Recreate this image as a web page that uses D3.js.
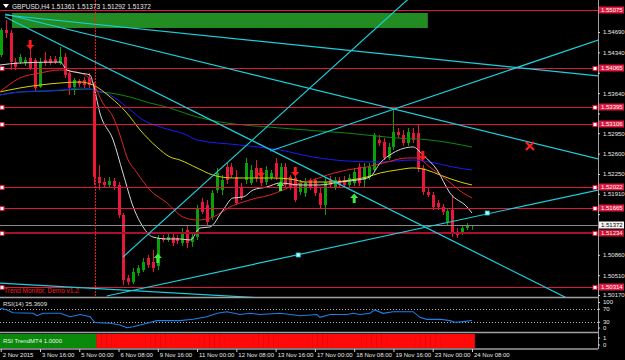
<!DOCTYPE html>
<html lang="en">
<head>
<meta charset="utf-8">
<title>GBPUSD,H4</title>
<script src="https://cdnjs.cloudflare.com/ajax/libs/d3/7.8.5/d3.min.js"></script>
<style>
    body { margin: 0; background: #000; }
    svg text { font-family: "Liberation Sans", Arial, sans-serif; }
</style>
</head>
<body>
<script>

//Candles, one per H4 bar from 2 Nov 08:00 to 24 Nov 08:00: [open, high, low, close]
var candles = [
    [1.54295,1.54759,1.54260,1.54724],[1.54724,1.54896,1.54587,1.54673],[1.54673,1.54724,1.54037,1.54174],[1.54174,1.54243,1.54037,1.54089],
    [1.54174,1.54312,1.54140,1.54260],[1.54157,1.54260,1.54106,1.54209],[1.54243,1.54415,1.54037,1.54071],[1.54209,1.54243,1.53659,1.53728],
    [1.53745,1.54243,1.53728,1.54174],[1.54209,1.54346,1.54106,1.54157],[1.54226,1.54278,1.54123,1.54157],[1.54226,1.54278,1.54140,1.54174],
    [1.54157,1.54432,1.54123,1.54260],[1.54260,1.54329,1.53899,1.53951],[1.53985,1.54037,1.53607,1.53728],[1.53745,1.53899,1.53607,1.53865],
    [1.53848,1.53882,1.53745,1.53796],[1.53865,1.53917,1.53728,1.53779],[1.53899,1.53985,1.53728,1.53779],[1.53779,1.53831,1.52061,1.52198],
    [1.52198,1.52404,1.51975,1.52095],[1.52112,1.52181,1.52009,1.52061],[1.52061,1.52198,1.52009,1.52129],[1.52129,1.52181,1.51975,1.52043],
    [1.52061,1.52112,1.51493,1.51545],[1.51545,1.51579,1.50342,1.50428],[1.50462,1.50514,1.50342,1.50394],[1.50394,1.50634,1.50359,1.50565],
    [1.50548,1.50686,1.50497,1.50634],[1.50600,1.50806,1.50565,1.50737],[1.50806,1.50858,1.50634,1.50686],[1.50737,1.50944,1.50565,1.50634],
    [1.50668,1.51201,1.50600,1.51150],[1.51150,1.51201,1.51081,1.51116],[1.51116,1.51236,1.51081,1.51167],[1.51167,1.51253,1.51012,1.51064],
    [1.51150,1.51201,1.51047,1.51098],[1.51064,1.51322,1.51012,1.51236],[1.51287,1.51373,1.50978,1.51064],[1.51081,1.51236,1.50995,1.51167],
    [1.51167,1.51717,1.51116,1.51665],[1.51769,1.51837,1.51562,1.51597],[1.51717,1.51803,1.51356,1.51425],[1.51511,1.51975,1.51459,1.51923],
    [1.51975,1.52353,1.51923,1.52267],[1.51975,1.52232,1.51889,1.52146],[1.52370,1.52439,1.52078,1.52146],[1.52370,1.52439,1.52181,1.52232],
    [1.52198,1.52318,1.51717,1.51751],[1.52009,1.52095,1.51803,1.51854],[1.52146,1.52525,1.52078,1.52439],[1.52095,1.52404,1.52061,1.52318],
    [1.52353,1.52490,1.52112,1.52181],[1.52284,1.52353,1.52043,1.52095],[1.52112,1.52387,1.52061,1.52318],[1.52181,1.52318,1.52146,1.52267],
    [1.52439,1.52525,1.52146,1.52198],[1.52112,1.52439,1.52061,1.52370],[1.52370,1.52439,1.52009,1.52061],[1.52198,1.52232,1.51975,1.52026],
    [1.52181,1.52232,1.51769,1.51803],[1.51940,1.52146,1.51889,1.52095],[1.51923,1.52181,1.51854,1.52112],[1.52146,1.52181,1.51975,1.52009],
    [1.52146,1.52181,1.51872,1.51923],[1.51923,1.52009,1.51665,1.51717],[1.51717,1.52181,1.51545,1.52112],[1.52146,1.52215,1.52009,1.52061],
    [1.52026,1.52198,1.51975,1.52146],[1.52146,1.52198,1.52009,1.52061],[1.52146,1.52215,1.52009,1.52061],[1.52061,1.52250,1.52009,1.52181],
    [1.52095,1.52353,1.52043,1.52284],[1.52370,1.52439,1.52043,1.52095],[1.52146,1.52439,1.52009,1.52370],[1.52198,1.52439,1.52146,1.52370],
    [1.52318,1.52954,1.52284,1.52920],[1.52834,1.52920,1.52731,1.52782],[1.52800,1.52868,1.52490,1.52525],[1.52525,1.52782,1.52490,1.52714],
    [1.52714,1.53350,1.52662,1.52971],[1.52971,1.53040,1.52868,1.52920],[1.52920,1.53006,1.52731,1.52782],[1.52782,1.53040,1.52731,1.52971],
    [1.52954,1.53040,1.52782,1.52834],[1.52954,1.53092,1.52284,1.52353],[1.52353,1.52404,1.51889,1.51940],[1.51940,1.52009,1.51854,1.51889],
    [1.51889,1.51940,1.51631,1.51683],[1.51751,1.51803,1.51631,1.51683],[1.51683,1.51734,1.51545,1.51597],[1.51425,1.51665,1.51373,1.51614],
    [1.51631,1.51889,1.51167,1.51253],[1.51253,1.51322,1.51150,1.51201],[1.51236,1.51356,1.51201,1.51322],[1.51322,1.51408,1.51287,1.51373],
    [1.51361,1.51373,1.51292,1.51372]
];

//Moving averages: [bar index, price]
var maWhite = [[-0.2,1.54123],[3.9,1.54157],[12.1,1.54174],[13.5,1.54037],[16.2,1.53985],[18.2,1.53951],[18.8,1.53814],[20.2,1.53298],
    [22.9,1.52834],[24.9,1.52267],[27,1.51683],[29,1.51339],[31,1.51167],[33.9,1.51133],[36.5,1.51133],[38.6,1.51116],[40.6,1.51322],
    [42.6,1.51339],[45.3,1.51631],[47.3,1.51837],[49.4,1.51854],[51.4,1.51975],[54.2,1.52026],[56.9,1.52095],[61,1.52061],[65,1.52061],
    [69.1,1.52112],[72.6,1.52146],[75.2,1.52198],[77.3,1.52439],[79.9,1.52610],[84,1.52714],[86,1.52576],[88.9,1.52318],[91.5,1.51923],
    [95,1.51683],[96,1.51579]];
var maRed = [[-0.2,1.53659],[3.9,1.53899],[8,1.53985],[12.1,1.54037],[16.2,1.53985],[18.8,1.53814],[20.8,1.53470],[22.9,1.53229],
    [24.3,1.52920],[25.7,1.52542],[27.8,1.52267],[30.4,1.51975],[33.9,1.51751],[37.1,1.51511],[40,1.51459],[42,1.51476],[44.1,1.51545],
    [46.7,1.51683],[49.4,1.51769],[52.2,1.51837],[54.9,1.51889],[57.5,1.51975],[61,1.52095],[63.6,1.52146],[66.5,1.52232],[70.5,1.52318],
    [74.6,1.52370],[78.7,1.52456],[82.8,1.52525],[84.8,1.52525],[87.4,1.52370],[90.9,1.52146],[94.2,1.51923],[96,1.51837]];
var maYellow = [[-0.2,1.53659],[3.9,1.53728],[8,1.53779],[12.1,1.53814],[16.2,1.53831],[18.8,1.53779],[22.3,1.53573],[25.7,1.53298],
    [28.4,1.53006],[31.8,1.52714],[34.5,1.52542],[36.5,1.52490],[40,1.52353],[43.2,1.52232],[47.3,1.52181],[51.4,1.52181],[55.5,1.52181],
    [58.9,1.52164],[62.4,1.52112],[67.7,1.52112],[71.2,1.52146],[74.6,1.52198],[77.3,1.52267],[80.7,1.52318],[84,1.52353],[86.8,1.52318],
    [89.5,1.52232],[93.6,1.52112],[96,1.52061]];
var maBlue = [[-0.2,1.53607],[3.9,1.53659],[8,1.53676],[12.1,1.53693],[16.2,1.53728],[18.8,1.53693],[22.3,1.53607],[25.7,1.53401],
    [29,1.53178],[32.5,1.53057],[37.9,1.52920],[40,1.52834],[48.7,1.52748],[56.9,1.52662],[63.6,1.52542],[70.5,1.52473],[77.3,1.52456],
    [84,1.52490],[87.4,1.52456],[92.1,1.52370],[96,1.52318]];
var maGreen = [[-0.2,1.53607],[3.9,1.53659],[10,1.53676],[18.2,1.53710],[20.2,1.53659],[22.3,1.53642],[26.3,1.53573],[30.4,1.53470],
    [34.5,1.53384],[38.6,1.53264],[42.6,1.53178],[56.9,1.53040],[70.5,1.52954],[80.7,1.52868],[87.4,1.52834],[96,1.52714]];

//RSI(14): [bar index, value]
var rsiPoints = [[0,73],[1.3,68],[2.5,59],[6.6,57.5],[7.4,50],[8.6,57.5],[12.1,57.5],[14.1,47],[16.2,54],[18.2,47],[19.2,29],
    [22.3,27],[24.3,21.5],[25.7,13],[27,16],[29.8,27],[31.8,35],[36.5,35],[39.2,39],[42,47],[44.1,57.5],[46.1,62.5],[48.7,54],
    [50.8,57.5],[52.8,54],[56.9,57.5],[61,50],[64.4,54],[65,45],[67.1,54],[70.5,54],[71.8,57.5],[73.2,54],[75.2,57.5],[76.2,68],
    [77.9,57.5],[79.9,62.5],[84,62.5],[85.4,45],[86.8,39],[89.5,39],[91.5,35],[92.5,30],[94.2,32],[96,35.36]];

//RSI TrendMT4: value 1 on every bar, green until the switch bar, red after
var trendValue = 1.0;
var trendSwitchBar = 20;

//Axis labels
var priceTicks = [1.54690,1.54340,1.53990,1.53640,1.53290,1.52950,1.52600,1.52250,1.51910,1.51560,1.51210,1.50860,1.50510,1.50170];
var timeTickBars = [0,8,16,24,32,40,48,56,64,72,80,88,96];
var timeLabels = ["2 Nov 2015","3 Nov 16:00","5 Nov 00:00","6 Nov 08:00","9 Nov 16:00","11 Nov 00:00","12 Nov 08:00",
    "13 Nov 16:00","17 Nov 00:00","18 Nov 08:00","19 Nov 16:00","23 Nov 00:00","24 Nov 08:00"];
var rsiTicks = [100,70,30,0];

//Drawn objects
var hLevels = [1.55075,1.54065,1.53395,1.53106,1.52022,1.51665,1.50314];
var hLevelDark = 1.51234;
var lastPrice = 1.51372;
var title = "GBPUSD,H4  1.51361 1.51373 1.51292 1.51372";
//trend lines: [bar1, price1, bar2, price2]
var trendLines = [
    [0.9,1.54982,121.7,1.53934],
    [0.9,1.54999,121.7,1.52507],
    [0.9,1.54948,114.9,1.50136],
    [24.9,1.50823,82.8,1.55240],
    [54.9,1.52645,121.7,1.54553],
    [21.6,1.50153,121.7,1.51975],
    [-0.2,1.50376,49.8,1.50136]
];
var lineDots = [[60.6,1.50858],[99.1,1.51579]];
var zoneBox = [2.3,1.55017,87.0,1.54759];
var vLineBar = 19.3;
var downArrows = [[6,1.54467],[53,1.52267],[60,1.52284],[86,1.52559]];
var upArrows = [[32,1.50806],[57,1.52043],[72,1.51837]];
var crossMark = [107.8,1.52731];

//Layout
var w = 625, h = 360;
var plotW = 598;
var mainH = 297;
var axisY = 349;
var fs = 6;

var xScale = d3.scaleLinear().domain([0, 96]).range([0.7, 472]);
var yScale = d3.scaleLinear().domain([1.50170, 1.54690]).range([295, 32]);
var rsiScale = d3.scaleLinear().domain([0, 100]).range([332, 299.5]);
var trScale = d3.scaleLinear().domain([0, 1]).range([348, 334]);
var step = xScale(1) - xScale(0);

var crimson = "#e0163e";
var bullCol = "#0aa00a";
var bearCol = "#e8183c";
var cyan = "#1ccfdc";

var svg = d3.select("body").append("svg").attr("width", w).attr("height", h);
svg.append("rect").attr("width", w).attr("height", h).attr("fill", "#000");

svg.append("clipPath").attr("id", "clipMain")
    .append("rect").attr("x", 0).attr("y", 0).attr("width", plotW).attr("height", mainH);

var main = svg.append("g").attr("clip-path", "url(#clipMain)");

//Candles
var px = function(i) { return Math.round(xScale(i)) + 0.5; };
main.selectAll("line.wick").data(candles).enter().append("line")
    .attr("x1", function(d, i) { return px(i); })
    .attr("x2", function(d, i) { return px(i); })
    .attr("y1", function(d) { return yScale(d[1]); })
    .attr("y2", function(d) { return yScale(d[2]); })
    .attr("stroke", function(d) { return d[3] >= d[0] ? bullCol : bearCol; })
    .attr("stroke-width", 1);
main.selectAll("rect.body").data(candles).enter().append("rect")
    .attr("x", function(d, i) { return px(i) - 1.5; })
    .attr("width", 3)
    .attr("y", function(d) { return yScale(Math.max(d[0], d[3])); })
    .attr("height", function(d) { return Math.max(1, Math.abs(yScale(d[0]) - yScale(d[3]))); })
    .attr("fill", function(d) { return d[3] >= d[0] ? bullCol : bearCol; });

//Moving averages
var maLine = d3.line()
    .x(function(d) { return xScale(d[0]); })
    .y(function(d) { return yScale(d[1]); })
    .curve(d3.curveMonotoneX);
[[maGreen, "#0b8a0b"], [maBlue, "#1a1aff"], [maYellow, "#d6d600"], [maRed, "#e02424"], [maWhite, "#d8d8d8"]].forEach(function(m) {
    main.append("path").attr("d", maLine(m[0])).attr("fill", "none")
        .attr("stroke", m[1]).attr("stroke-width", 1);
});

//Zone rectangle
main.append("rect")
    .attr("x", xScale(zoneBox[0])).attr("y", yScale(zoneBox[1]))
    .attr("width", xScale(zoneBox[2]) - xScale(zoneBox[0]))
    .attr("height", yScale(zoneBox[3]) - yScale(zoneBox[1]))
    .attr("fill", "#228b22");

//Horizontal levels
main.selectAll("line.level").data(hLevels).enter().append("line")
    .attr("x1", 0).attr("x2", plotW)
    .attr("y1", function(d) { return Math.round(yScale(d)) + 0.5; })
    .attr("y2", function(d) { return Math.round(yScale(d)) + 0.5; })
    .attr("stroke", crimson).attr("stroke-width", 1);
main.append("line").attr("x1", 0).attr("x2", plotW)
    .attr("y1", Math.round(yScale(lastPrice)) + 0.5).attr("y2", Math.round(yScale(lastPrice)) + 0.5)
    .attr("stroke", "#8a8a8a");
main.append("line").attr("x1", 0).attr("x2", plotW)
    .attr("y1", Math.round(yScale(hLevelDark))).attr("y2", Math.round(yScale(hLevelDark)))
    .attr("stroke", "#a8102c").attr("stroke-width", 2);

//Vertical dotted line
main.append("line")
    .attr("x1", xScale(vLineBar)).attr("x2", xScale(vLineBar))
    .attr("y1", 0).attr("y2", mainH)
    .attr("stroke", "#ff1a1a").attr("stroke-dasharray", "2,1");

//Trend lines, extended as rays to the right
main.selectAll("line.trend").data(trendLines).enter().append("line")
    .attr("x1", function(d) { return xScale(d[0]); })
    .attr("y1", function(d) { return yScale(d[1]); })
    .attr("x2", function(d) { return xScale(d[0] + (d[2] - d[0]) * 3); })
    .attr("y2", function(d) { return yScale(d[1] + (d[3] - d[1]) * 3); })
    .attr("stroke", cyan).attr("stroke-width", 1.2);
main.selectAll("rect.dot").data(lineDots).enter().append("rect")
    .attr("x", function(d) { return xScale(d[0]) - 2; })
    .attr("y", function(d) { return yScale(d[1]) - 2; })
    .attr("width", 4).attr("height", 4)
    .attr("fill", "#bff6f6").attr("stroke", cyan).attr("stroke-width", 0.8);

//Arrows
var downPath = "M-1.5,-5L1.5,-5L1.5,0L4,0L0,4.5L-4,0L-1.5,0Z";
var upPath = "M-1.5,5L1.5,5L1.5,0L4,0L0,-4.5L-4,0L-1.5,0Z";
main.selectAll("path.dn").data(downArrows).enter().append("path")
    .attr("d", downPath).attr("fill", "#ff1a1a")
    .attr("transform", function(d) { return "translate(" + xScale(d[0]) + "," + yScale(d[1]) + ")"; });
main.selectAll("path.up").data(upArrows).enter().append("path")
    .attr("d", upPath).attr("fill", "#3ee63e")
    .attr("transform", function(d) { return "translate(" + xScale(d[0]) + "," + yScale(d[1]) + ")"; });
var cx = xScale(crossMark[0]), cy = yScale(crossMark[1]);
main.append("path").attr("d", "M" + (cx - 4) + "," + (cy - 4) + "L" + (cx + 4) + "," + (cy + 4) + "M" + (cx + 4) + "," + (cy - 4) + "L" + (cx - 4) + "," + (cy + 4))
    .attr("stroke", "#ff2020").attr("stroke-width", 2.2);

//Level handles
var allLevels = hLevels.slice(1).concat([hLevelDark]);
[2, plotW - 3].forEach(function(hx) {
    svg.selectAll(null).data(allLevels).enter().append("rect")
        .attr("x", hx - 2).attr("y", function(d) { return Math.round(yScale(d)) - 1.5; })
        .attr("width", 4).attr("height", 4)
        .attr("fill", "#fff").attr("stroke", crimson).attr("stroke-width", 1);
});

//Title
svg.append("path").attr("d", "M3,4L9,4L6,8Z").attr("fill", "#fff");
svg.append("text").attr("x", 12).attr("y", 9).attr("font-size", 6.5).attr("fill", "#e8e8e8").text(title);
svg.append("text").attr("x", 4).attr("y", 293).attr("font-size", 6.5).attr("fill", "#ff1a1a").text("Trend Monitor, Demo v1.2");

//RSI window
svg.selectAll("line.rl").data([70, 30]).enter().append("line")
    .attr("x1", 0).attr("x2", plotW)
    .attr("y1", function(d) { return Math.round(rsiScale(d)) + 0.5; })
    .attr("y2", function(d) { return Math.round(rsiScale(d)) + 0.5; })
    .attr("stroke", "#b0b0b0").attr("stroke-dasharray", "1,2");
svg.append("path")
    .attr("d", d3.line().x(function(d) { return xScale(d[0]); }).y(function(d) { return rsiScale(d[1]); })(rsiPoints))
    .attr("fill", "none").attr("stroke", "#1e7fe8").attr("stroke-width", 1.1);
svg.append("text").attr("x", 3).attr("y", 306).attr("font-size", fs).attr("fill", "#e0e0e0").text("RSI(14) 35.3609");

//RSI TrendMT4 window
svg.selectAll("rect.tr").data(candles).enter().append("rect")
    .attr("x", function(d, i) { return xScale(i) - step / 2; })
    .attr("width", step + 0.4)
    .attr("y", trScale(trendValue))
    .attr("height", trScale(0) - trScale(trendValue))
    .attr("fill", function(d, i) { return i < trendSwitchBar ? "#0a8a0a" : "#ff0a0a"; });
svg.append("text").attr("x", 3).attr("y", 343).attr("font-size", fs).attr("fill", "#f0f0f0").text("RSI TrendMT4 1.0000");

//Panel borders
svg.selectAll("line.sep").data([297.5, 332.5, axisY]).enter().append("line")
    .attr("x1", 0).attr("x2", plotW).attr("y1", function(d) { return d; }).attr("y2", function(d) { return d; })
    .attr("stroke", "#a0a0a0").attr("stroke-width", 1.5);
svg.append("line").attr("x1", plotW + 0.5).attr("x2", plotW + 0.5).attr("y1", 0).attr("y2", axisY)
    .attr("stroke", "#a0a0a0").attr("stroke-width", 1);

//Axis styling
var styleAxis = function(g) {
    g.select(".domain").remove();
    g.selectAll(".tick line").attr("stroke", "#d0d0d0");
    g.selectAll(".tick text").attr("fill", "#e8e8e8").attr("font-size", fs)
        .attr("font-family", "Liberation Sans, Arial, sans-serif");
};

//Price labels on the axis
var fmt = d3.format(".5f");
var tags = hLevels.map(function(v) { return [v, crimson, "#fff"]; });
tags.push([hLevelDark, "#c8102e", "#fff"]);
tags.push([lastPrice, "#f4f4f4", "#000"]);

//Price axis; tick labels that sit under a price tag are covered by it
var pAxis = svg.append("g").attr("transform", "translate(" + plotW + ",0)")
    .call(d3.axisRight(yScale).tickValues(priceTicks).tickSize(2).tickPadding(3).tickFormat(d3.format(".5f")))
    .call(styleAxis);
pAxis.selectAll(".tick text").style("display", function(d) {
    var covered = tags.some(function(t) { return Math.abs(yScale(t[0]) - yScale(d)) < 6.5; });
    return covered ? "none" : null;
});

var tag = svg.selectAll("g.tag").data(tags).enter().append("g")
    .attr("transform", function(d) { return "translate(" + (plotW + 1) + "," + Math.round(yScale(d[0])) + ")"; });
tag.append("rect").attr("x", 0).attr("y", -3.5).attr("width", 25).attr("height", 7)
    .attr("fill", function(d) { return d[1]; });
tag.append("text").attr("x", 2).attr("y", 2.2).attr("font-size", fs)
    .attr("fill", function(d) { return d[2]; }).text(function(d) { return fmt(d[0]); });

//RSI axis
var rsiAxis = svg.append("g").attr("transform", "translate(" + plotW + ",0)")
    .call(d3.axisRight(rsiScale).tickValues(rsiTicks).tickSize(2).tickPadding(3))
    .call(styleAxis);
rsiAxis.selectAll(".tick").attr("transform", function(d) {
    return "translate(0," + Math.min(328, Math.max(302.5, rsiScale(d))) + ")";
});

//Trend axis
svg.append("g").attr("transform", "translate(" + plotW + ",0)")
    .call(d3.axisRight(trScale).tickValues([1, 0]).tickSize(2).tickPadding(3).tickFormat(d3.format("d")))
    .call(styleAxis)
    .selectAll(".tick").attr("transform", function(d) { return "translate(0," + (d === 1 ? 338 : 345) + ")"; });

//Time axis
var tAxis = svg.append("g").attr("transform", "translate(0," + axisY + ")")
    .call(d3.axisBottom(xScale).tickValues(timeTickBars).tickSize(3).tickPadding(1)
        .tickFormat(function(d, k) { return timeLabels[k]; }))
    .call(styleAxis);
tAxis.selectAll(".tick text").attr("text-anchor", "start").attr("x", 1.5);

</script>
</body>
</html>
